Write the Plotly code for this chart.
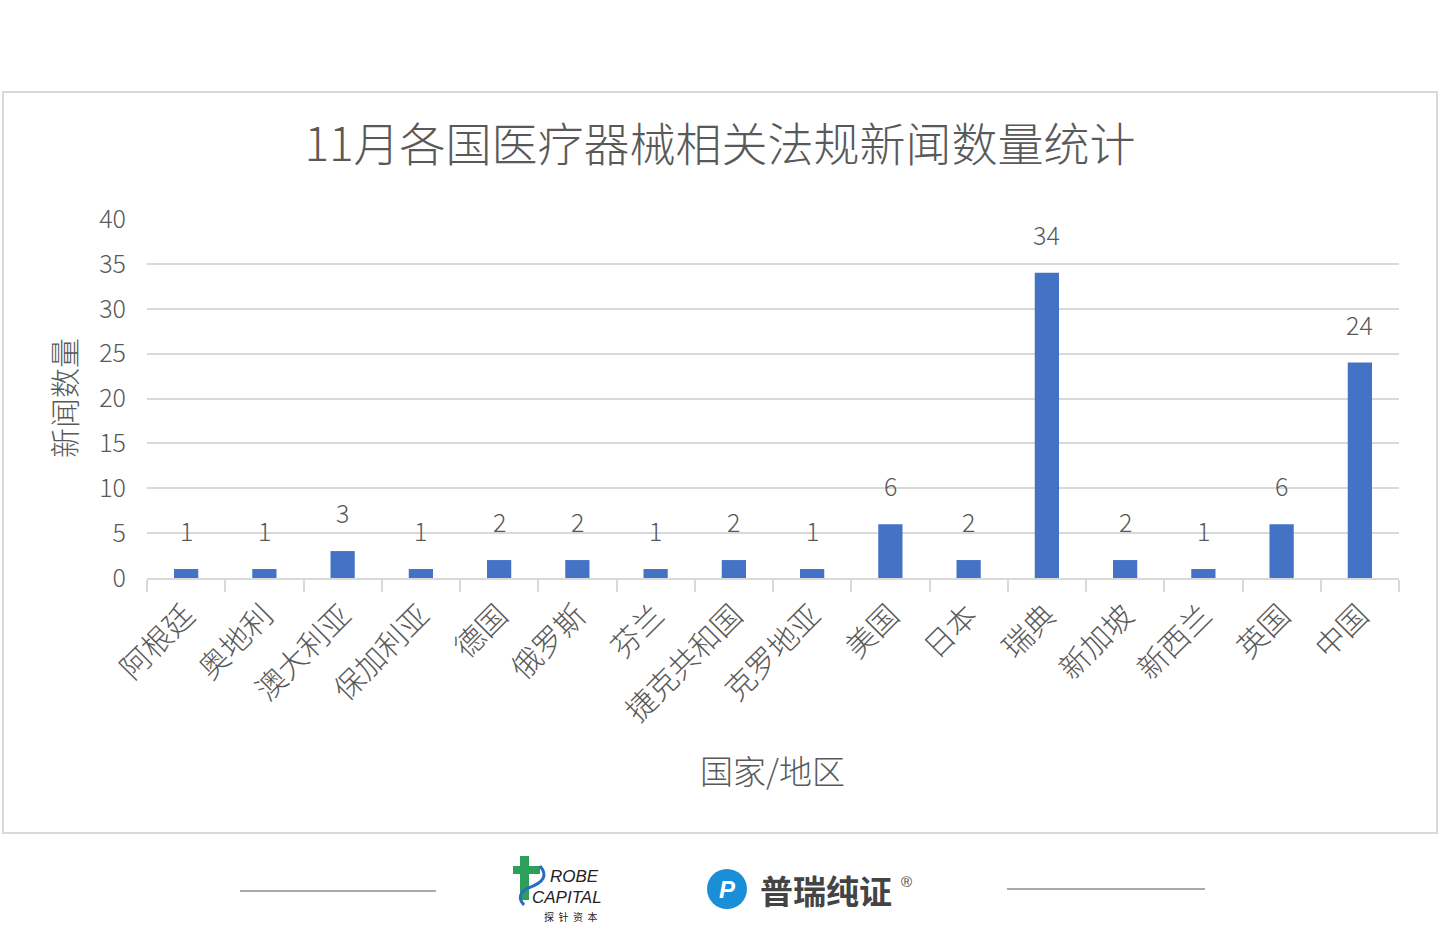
import plotly.graph_objects as go

categories = ["阿根廷", "奥地利", "澳大利亚", "保加利亚", "德国", "俄罗斯", "芬兰", "捷克共和国",
              "克罗地亚", "美国", "日本", "瑞典", "新加坡", "新西兰", "英国", "中国"]
counts = [1, 1, 3, 1, 2, 2, 1, 2, 1, 6, 2, 34, 2, 1, 6, 24]
y_ticks = [0, 5, 10, 15, 20, 25, 30, 35, 40]

W, H = 1440, 945
L, R, T, B = 147, 1399, 219, 578
FONT = "Noto Sans CJK SC"
GRAY = "#595959"
LINE = "#d9d9d9"

def px(x):
    return (x - L) / (R - L)

def py(y):
    return (B - y) / (B - T)

fig = go.Figure()
fig.add_trace(go.Bar(x=categories, y=counts, marker_color="#4472C4",
                     marker_line_width=0, hoverinfo="x+y"))

annotations = []
for c, v in zip(categories, counts):
    annotations.append(dict(x=c, y=v, xref="x", yref="y", text=str(v), showarrow=False,
                            yanchor="bottom", yshift=19,
                            font=dict(family=FONT, size=25, color=GRAY, weight=300)))

annotations.append(dict(x=px(63), y=py(398), xref="paper", yref="paper", text="新闻数量",
                        textangle=-90, showarrow=False, xanchor="center", yanchor="middle",
                        font=dict(family=FONT, size=30, color=GRAY, weight=300)))
annotations.append(dict(x=px(772), y=py(770), xref="paper", yref="paper", text="国家/地区",
                        showarrow=False, xanchor="center", yanchor="middle",
                        font=dict(family=FONT, size=33, color=GRAY, weight=300)))

# footer logos (text approximations)
annotations.append(dict(x=px(548), y=py(876), xref="paper", yref="paper",
                        text="<i>ROBE</i>", showarrow=False, xanchor="left", yanchor="middle",
                        font=dict(family="Liberation Sans Narrow, Liberation Sans", size=17, color="#222222")))
annotations.append(dict(x=px(530), y=py(897), xref="paper", yref="paper",
                        text="<i>CAPITAL</i>", showarrow=False, xanchor="left", yanchor="middle",
                        font=dict(family="Liberation Sans Narrow, Liberation Sans", size=17, color="#222222")))
annotations.append(dict(x=px(570), y=py(916), xref="paper", yref="paper",
                        text="探  针  资  本", showarrow=False, xanchor="center", yanchor="middle",
                        font=dict(family=FONT, size=10, color="#222222")))
annotations.append(dict(x=px(727), y=py(889), xref="paper", yref="paper",
                        text="<b><i>P</i></b>", showarrow=False, xanchor="center", yanchor="middle",
                        font=dict(family="Liberation Sans", size=24, color="white")))
annotations.append(dict(x=px(758), y=py(890), xref="paper", yref="paper",
                        text="<b>普瑞纯证</b>", showarrow=False, xanchor="left", yanchor="middle",
                        font=dict(family=FONT, size=33, color="#444444")))
annotations.append(dict(x=px(899), y=py(881), xref="paper", yref="paper",
                        text="®", showarrow=False, xanchor="left", yanchor="middle",
                        font=dict(family="Liberation Sans", size=15, color="#444444")))

shapes = [
    dict(type="rect", xref="paper", yref="paper", x0=px(3), x1=px(1437), y0=py(833), y1=py(92),
         line=dict(color=LINE, width=2), fillcolor="rgba(0,0,0,0)", layer="below"),
    dict(type="line", xref="paper", yref="paper", x0=px(240), x1=px(436), y0=py(891), y1=py(891),
         line=dict(color="#aaaaaa", width=2)),
    dict(type="line", xref="paper", yref="paper", x0=px(1007), x1=px(1205), y0=py(889), y1=py(889),
         line=dict(color="#aaaaaa", width=2)),
    # PROBE logo green cross + stem
    dict(type="rect", xref="paper", yref="paper", x0=px(520), x1=px(529), y0=py(900), y1=py(856),
         line=dict(width=0), fillcolor="#2e9e5b"),
    dict(type="rect", xref="paper", yref="paper", x0=px(513), x1=px(540), y0=py(874), y1=py(866),
         line=dict(width=0), fillcolor="#2e9e5b"),
    dict(type="path", xref="paper", yref="paper",
         path=f"M {px(540)},{py(866)} Q {px(552)},{py(880)} {px(528)},{py(888)} Q {px(515)},{py(895)} {px(524)},{py(905)}",
         line=dict(color="#2a6bbf", width=3)),
    # Prui logo blue circle
    dict(type="circle", xref="paper", yref="paper", x0=px(707), x1=px(747), y0=py(909), y1=py(869),
         line=dict(width=0), fillcolor="#1a8fd8"),
]

fig.update_layout(
    width=W, height=H,
    margin=dict(l=L, r=W - R, t=T, b=H - B, autoexpand=False),
    paper_bgcolor="white", plot_bgcolor="white",
    title=dict(text="11月各国医疗器械相关法规新闻数量统计", x=0.5, xanchor="center",
               y=1 - 145 / H, yanchor="middle", yref="container",
               font=dict(family=FONT, size=46, color=GRAY, weight=300)),
    bargap=0.69,
    showlegend=False,
    annotations=annotations,
    shapes=shapes,
    font=dict(family=FONT, color=GRAY),
)
fig.update_xaxes(type="category", tickangle=-45, tickson="boundaries", ticks="outside",
                 ticklen=12, tickcolor=LINE, tickwidth=2, showline=True, linecolor=LINE,
                 linewidth=2, showgrid=False, ticklabelstandoff=6,
                 tickfont=dict(family=FONT, size=30, color=GRAY, weight=300),
                 fixedrange=True)
fig.update_yaxes(range=[0, 40], tickvals=y_ticks, showgrid=True, gridcolor=LINE, gridwidth=2,
                 zeroline=False, showline=False, ticks="", ticklabelstandoff=20,
                 tickfont=dict(family=FONT, size=25, color=GRAY, weight=300), fixedrange=True)

fig.write_html("out.html", config={"displayModeBar": False},
               post_script="document.body.style.margin='0';document.body.style.overflow='hidden';")
